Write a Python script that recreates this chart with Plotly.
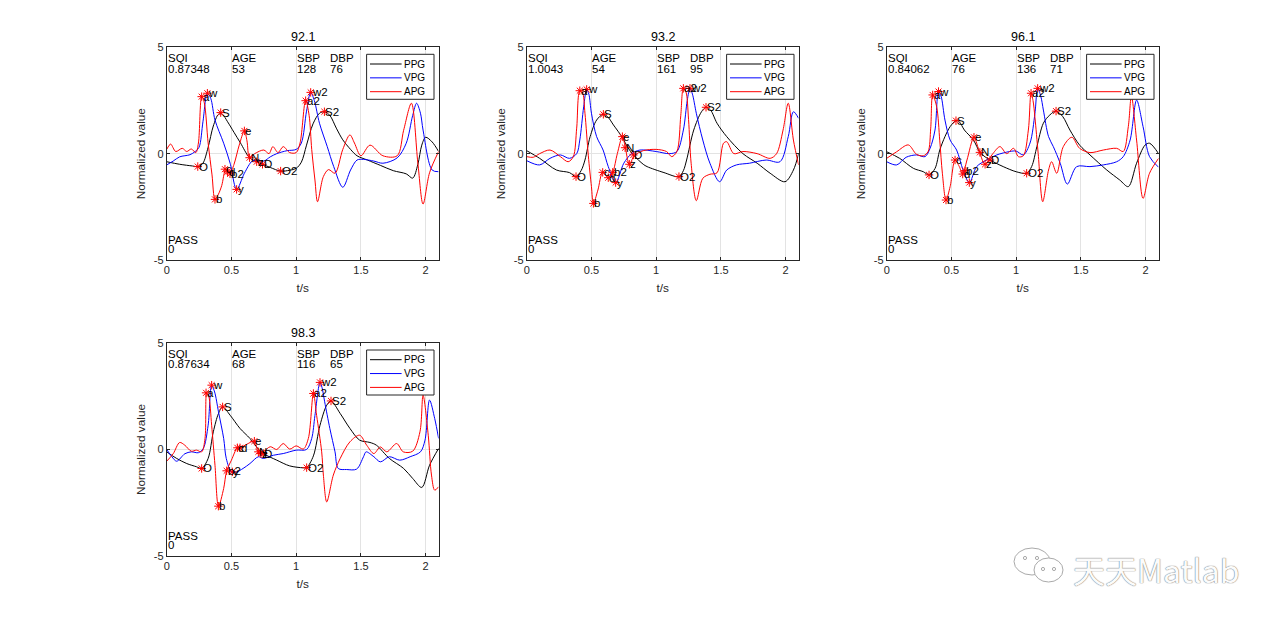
import plotly.graph_objects as go

# panel headers
titles = ['92.1', '93.2', '96.1', '98.3']
sqi = ['0.87348', '1.0043', '0.84062', '0.87634']
age = ['53', '54', '76', '68']
sbp = ['128', '161', '136', '116']
dbp = ['76', '95', '71', '65']
result = ['PASS', 'PASS', 'PASS', 'PASS']
flag = ['0', '0', '0', '0']
series_names = ['PPG', 'VPG', 'APG']
series_colors = ['black', 'blue', 'red']

# (t, value)
ppg1 = [(0, -0.38), (0.1, -0.5), (0.2, -0.58), (0.245, -0.61), (0.28, -0.45), (0.32, 0.3), (0.36, 1.3),
        (0.40, 1.85), (0.43, 1.85), (0.47, 1.5), (0.52, 1.0), (0.57, 0.5), (0.64, -0.19), (0.695, -0.38),
        (0.74, -0.5), (0.8, -0.65), (0.88, -0.82), (0.95, -0.78), (1.0, -0.69), (1.04, -0.4), (1.08, 0.4),
        (1.13, 1.4), (1.18, 1.9), (1.22, 1.97), (1.26, 1.8), (1.31, 1.2), (1.36, 0.65), (1.42, 0.2),
        (1.47, -0.1), (1.55, -0.3), (1.65, -0.55), (1.75, -0.8), (1.85, -0.95), (1.9, -1.15), (1.94, -0.5),
        (1.97, 0.4), (2.0, 0.77), (2.05, 0.55), (2.1, 0.1)]
vpg1 = [(0, -0.53), (0.05, -0.35), (0.1, -0.15), (0.18, -0.05), (0.22, 0.1), (0.25, 0.3), (0.28, 1.5),
        (0.314, 2.84), (0.34, 2.6), (0.373, 1.58), (0.44, 0.49), (0.49, -0.45), (0.54, -1.68), (0.6, -0.92),
        (0.66, -0.35), (0.7, -0.3), (0.75, -0.35), (0.8, -0.15), (0.85, 0.0), (0.93, 0.14), (1.0, 0.2),
        (1.04, 0.5), (1.08, 2.0), (1.112, 2.88), (1.14, 2.5), (1.18, 1.43), (1.24, 0.33), (1.29, -0.61),
        (1.36, -1.58), (1.42, -0.77), (1.47, -0.3), (1.52, -0.27), (1.6, -0.35), (1.67, -0.45), (1.78, -0.2),
        (1.85, 0.49), (1.9, 1.8), (1.93, 2.37), (1.96, 1.9), (1.98, 1.11), (2.05, -0.77), (2.1, -0.85)]
apg1 = [(0, 0.2), (0.03, 0.45), (0.07, 0.1), (0.12, 0.25), (0.155, 0.1), (0.19, 0.22), (0.225, 0.05),
        (0.245, 0.5), (0.27, 2.68), (0.29, 2.4), (0.32, 0.5), (0.35, -1.0), (0.373, -2.15), (0.4, -1.9),
        (0.425, -1.5), (0.456, -0.74), (0.475, -0.8), (0.49, -0.92), (0.52, -0.5), (0.56, 0.4), (0.6, 1.07),
        (0.62, 0.6), (0.64, -0.19), (0.68, 0.0), (0.75, 0.17), (0.79, 0.0), (0.82, 0.33), (0.86, 0.05),
        (0.9, 0.33), (0.95, 0.05), (1.0, 0.05), (1.03, 0.5), (1.073, 2.52), (1.1, 1.8), (1.12, 0.2),
        (1.145, -1.24), (1.165, -2.26), (1.21, -1.08), (1.25, -0.75), (1.3, -0.92), (1.36, 0.2), (1.415, 0.88),
        (1.45, 0.5), (1.5, -0.1), (1.57, 0.4), (1.67, -0.1), (1.78, -0.1), (1.83, 1.1), (1.89, 2.37),
        (1.94, -0.45), (1.98, -2.37), (2.03, -0.9), (2.1, 0.1)]

ppg2 = [(0, 0.14), (0.1, -0.22), (0.23, -0.77), (0.33, -0.89), (0.381, -1.08), (0.42, -0.8), (0.45, -0.3),
        (0.49, 0.8), (0.54, 1.58), (0.592, 1.85), (0.63, 1.7), (0.67, 1.35), (0.74, 0.75), (0.78, 0.3),
        (0.824, -0.06), (0.9, -0.5), (0.93, -0.61), (1.06, -0.89), (1.176, -1.08), (1.21, -0.8), (1.235, -0.3),
        (1.29, 1.11), (1.35, 1.97), (1.385, 2.18), (1.42, 2.05), (1.47, 1.43), (1.545, 0.8), (1.67, 0.0),
        (1.78, -0.45), (1.88, -0.92), (1.995, -1.32), (2.06, -0.77), (2.1, 0.0)]
vpg2 = [(0, -0.33), (0.1, -0.53), (0.18, -0.22), (0.26, -0.06), (0.33, -0.22), (0.386, 0.0), (0.41, 0.64),
        (0.44, 2.2), (0.463, 3.02), (0.48, 2.8), (0.5, 1.9), (0.54, 0.8), (0.59, 0.17), (0.63, -0.61),
        (0.687, -1.36), (0.75, -0.45), (0.81, 0.0), (0.875, 0.17), (1.0, 0.1), (1.1, 0.0), (1.16, 0.1),
        (1.21, 1.11), (1.24, 2.5), (1.261, 3.07), (1.28, 2.8), (1.31, 1.9), (1.36, 0.64), (1.415, -0.45),
        (1.49, -1.32), (1.545, -0.77), (1.62, -0.53), (1.72, -0.45), (1.85, -0.3), (1.956, -0.38),
        (2.02, 0.8), (2.06, 1.97), (2.1, 1.66)]
apg2 = [(0, -0.14), (0.05, -0.17), (0.1, 0.0), (0.18, 0.17), (0.26, -0.14), (0.32, -0.38), (0.36, -0.14),
        (0.386, 1.2), (0.41, 2.96), (0.43, 2.9), (0.45, 1.9), (0.476, -0.1), (0.5, -1.55), (0.515, -2.34),
        (0.55, -1.71), (0.587, -0.88), (0.63, -1.13), (0.664, -0.88), (0.7, 0.0), (0.739, 0.8), (0.76, 0.35),
        (0.793, -0.5), (0.83, -0.1), (0.9, 0.14), (1.0, 0.2), (1.08, 0.1), (1.12, -0.14), (1.16, 0.1),
        (1.19, 1.8), (1.21, 3.07), (1.23, 2.9), (1.25, 1.6), (1.27, -0.45), (1.31, -2.21), (1.36, -1.16),
        (1.415, -0.97), (1.47, -0.9), (1.52, 0.49), (1.545, 0.56), (1.6, 0.0), (1.67, 0.1), (1.78, 0.0),
        (1.88, -0.22), (1.93, 0.0), (1.98, 1.11), (2.02, 2.37), (2.06, 0.64), (2.1, -0.53)]

ppg3 = [(0, 0.09), (0.1, -0.22), (0.206, -0.69), (0.283, -0.85), (0.327, -1.0), (0.373, -0.7), (0.41, 0.17),
        (0.45, 0.8), (0.49, 1.27), (0.535, 1.55), (0.56, 1.5), (0.6, 1.11), (0.67, 0.64), (0.72, 0.06),
        (0.76, -0.15), (0.798, -0.3), (0.9, -0.61), (1.0, -0.85), (1.081, -0.92), (1.12, -0.6), (1.16, 0.33),
        (1.21, 1.43), (1.26, 1.82), (1.308, 2.0), (1.36, 1.74), (1.415, 1.11), (1.49, 0.4), (1.57, -0.06),
        (1.7, -0.77), (1.8, -1.24), (1.866, -1.55), (1.93, -0.45), (1.995, 0.4), (2.03, 0.49), (2.1, 0.0)]
vpg3 = [(0, -0.38), (0.077, -0.53), (0.15, -0.17), (0.23, -0.06), (0.296, -0.14), (0.335, 0.25),
        (0.373, 1.11), (0.4, 2.92), (0.42, 2.7), (0.45, 1.58), (0.49, 0.64), (0.54, 0.17), (0.59, -0.77),
        (0.638, -1.36), (0.695, -0.61), (0.77, -0.3), (0.85, -0.06), (0.95, 0.1), (1.0, 0.12), (1.055, -0.06),
        (1.107, 0.5), (1.145, 1.9), (1.166, 3.07), (1.19, 2.7), (1.21, 2.05), (1.25, 0.8), (1.287, 0.33),
        (1.34, -0.45), (1.395, -1.43), (1.467, -0.61), (1.57, -0.61), (1.673, -0.53), (1.776, -0.38),
        (1.827, -0.14), (1.88, 0.64), (1.93, 2.52), (1.98, 1.27), (2.03, -0.14), (2.1, -0.64)]
apg3 = [(0, -0.22), (0.077, 0.09), (0.167, 0.41), (0.23, -0.03), (0.283, -0.1), (0.32, 0.1), (0.34, 1.2),
        (0.355, 2.76), (0.386, 2.2), (0.41, 0.6), (0.43, -0.92), (0.458, -2.18), (0.49, -1.55), (0.528, -0.3),
        (0.56, -0.6), (0.587, -0.96), (0.62, -0.3), (0.674, 0.77), (0.708, 0.25), (0.76, -0.5), (0.82, 0.0),
        (0.875, 0.33), (0.927, 0.0), (0.98, 0.25), (1.017, -0.14), (1.055, -0.1), (1.094, 1.11), (1.115, 2.84),
        (1.13, 2.5), (1.145, 1.7), (1.17, 0.0), (1.205, -2.26), (1.25, -0.77), (1.274, -0.38), (1.313, -0.92),
        (1.364, 0.33), (1.43, 0.77), (1.49, 0.25), (1.57, 0.05), (1.673, 0.17), (1.776, 0.25), (1.827, 0.1),
        (1.866, 1.27), (1.89, 2.7), (1.93, 0.64), (1.98, -2.1), (2.03, -0.92), (2.1, -0.22)]

ppg4 = [(0, -0.11), (0.077, -0.42), (0.155, -0.66), (0.23, -0.81), (0.27, -0.89), (0.32, -0.42),
        (0.36, 0.83), (0.4, 1.69), (0.432, 2.0), (0.49, 1.61), (0.566, 0.99), (0.643, 0.52), (0.708, 0.02),
        (0.746, -0.19), (0.85, -0.5), (0.95, -0.77), (1.055, -0.86), (1.081, -0.85), (1.133, -0.3),
        (1.184, 1.14), (1.236, 2.08), (1.269, 2.28), (1.34, 1.69), (1.415, 0.99), (1.49, 0.44), (1.57, 0.33),
        (1.62, 0.2), (1.72, -0.42), (1.83, -0.89), (1.9, -1.36), (1.97, -1.78), (2.03, -0.74), (2.1, 0.05)]
vpg4 = [(0, 0.0), (0.04, -0.34), (0.077, -0.55), (0.14, -0.2), (0.19, -0.11), (0.245, -0.15), (0.283, 0.05),
        (0.32, 1.14), (0.347, 3.0), (0.37, 2.7), (0.4, 1.77), (0.44, 0.52), (0.46, -0.42), (0.5, -1.05),
        (0.54, -1.05), (0.59, -0.89), (0.643, -0.66), (0.708, -0.34), (0.746, -0.42), (0.824, -0.27),
        (0.9, -0.19), (1.0, -0.03), (1.08, 0.0), (1.12, 0.52), (1.145, 1.6), (1.184, 3.15), (1.2, 2.9),
        (1.22, 2.24), (1.26, 0.99), (1.3, -0.11), (1.325, -0.89), (1.39, -0.94), (1.467, -0.92), (1.52, -0.34),
        (1.54, -0.11), (1.6, -0.34), (1.65, -0.58), (1.72, -0.34), (1.8, -0.5), (1.88, -0.34), (1.96, -0.11),
        (1.995, 0.44), (2.03, 2.32), (2.07, 1.45), (2.1, 0.52)]
apg4 = [(0, -0.55), (0.05, -0.2), (0.1, 0.33), (0.14, 0.2), (0.19, -0.08), (0.23, -0.03), (0.27, -0.11),
        (0.296, 0.52), (0.309, 2.68), (0.325, 2.5), (0.347, 1.14), (0.373, -0.74), (0.4, -2.66), (0.44, -1.83),
        (0.463, -1.0), (0.5, -0.5), (0.546, 0.08), (0.566, 0.08), (0.62, 0.25), (0.677, 0.39), (0.708, -0.11),
        (0.746, -0.1), (0.8, 0.13), (0.85, 0.0), (0.9, 0.28), (0.95, 0.02), (1.0, 0.17), (1.055, 0.02),
        (1.094, 0.52), (1.133, 2.63), (1.158, 1.6), (1.197, -0.11), (1.21, -1.2), (1.236, -2.46), (1.287, -1.2),
        (1.34, -0.42), (1.415, 0.36), (1.49, 0.67), (1.545, 0.2), (1.6, -0.19), (1.65, 0.12), (1.7, -0.11),
        (1.776, 0.28), (1.827, -0.11), (1.9, -0.08), (1.956, 0.83), (1.98, 2.55), (2.02, 0.67), (2.045, -1.2),
        (2.07, -1.91), (2.1, -1.75)]

# fiducial points: (label, t, value)
pts1 = [('a', 0.27, 2.68), ('w', 0.314, 2.84), ('S', 0.417, 1.93), ('e', 0.60, 1.07), ('O', 0.24, -0.61),
        ('b', 0.373, -2.15), ('c', 0.45, -0.73), ('d', 0.47, -0.85), ('b2', 0.489, -0.95), ('y', 0.54, -1.68),
        ('N', 0.64, -0.19), ('z', 0.695, -0.38), ('D', 0.74, -0.5), ('O2', 0.88, -0.82), ('a2', 1.073, 2.49),
        ('w2', 1.112, 2.88), ('S2', 1.218, 1.97)]
pts2 = [('a', 0.41, 2.96), ('w', 0.463, 3.02), ('O', 0.381, -1.08), ('S', 0.592, 1.85), ('b', 0.515, -2.34),
        ('c', 0.587, -0.88), ('d', 0.63, -1.13), ('b2', 0.664, -0.88), ('y', 0.687, -1.36), ('e', 0.739, 0.8),
        ('N', 0.76, 0.28), ('z', 0.793, -0.5), ('D', 0.824, -0.06), ('O2', 1.176, -1.08), ('a2', 1.21, 3.07),
        ('w2', 1.261, 3.07), ('S2', 1.385, 2.18)]
pts3 = [('a', 0.355, 2.76), ('w', 0.4, 2.92), ('O', 0.327, -1.0), ('S', 0.535, 1.55), ('b', 0.458, -2.18),
        ('c', 0.528, -0.3), ('d', 0.587, -0.96), ('b2', 0.605, -0.8), ('y', 0.638, -1.36), ('e', 0.674, 0.77),
        ('N', 0.72, 0.06), ('z', 0.76, -0.5), ('D', 0.798, -0.3), ('O2', 1.081, -0.92), ('a2', 1.115, 2.84),
        ('w2', 1.166, 3.07), ('S2', 1.308, 2.0)]
pts4 = [('a', 0.304, 2.66), ('w', 0.347, 3.02), ('S', 0.432, 2.0), ('O', 0.27, -0.89), ('b', 0.399, -2.66),
        ('b2', 0.463, -1.0), ('y', 0.507, -1.05), ('c', 0.546, 0.08), ('d', 0.566, 0.08), ('e', 0.677, 0.39),
        ('N', 0.708, -0.11), ('z', 0.728, -0.19), ('D', 0.746, -0.19), ('O2', 1.081, -0.85), ('a2', 1.133, 2.63),
        ('w2', 1.184, 3.15), ('S2', 1.269, 2.28)]

x_ticks = [0, 0.5, 1, 1.5, 2]
x_ticktext = ['0', '0.5', '1', '1.5', '2']
y_ticks = [-5, 0, 5]
y_ticktext = ['-5', '0', '5']

ppg = [ppg1, ppg2, ppg3, ppg4]
vpg = [vpg1, vpg2, vpg3, vpg4]
apg = [apg1, apg2, apg3, apg4]
pts = [pts1, pts2, pts3, pts4]

W, H = 1280, 625
OFF = 8  # the page body margin shifts the figure by this much
# axes boxes in screen pixels: left, top, right, bottom
boxes = [(166.7, 47.3, 438.6, 260.0), (526.7, 47.3, 798.6, 260.0),
         (886.7, 47.3, 1158.6, 260.0), (166.7, 343.0, 438.6, 556.0)]

FONT = 'Arial, Liberation Sans, sans-serif'
INK = '#262626'


def fx(x):
    return (x - OFF) / W


def fy(y):
    return 1 - (y - OFF) / H


def px(x0, y0, x1, y1):
    return dict(xref='paper', yref='paper', x0=fx(x0), x1=fx(x1), y0=fy(y1), y1=fy(y0))


def txt(x, y, s, xref, yref, **kw):
    d = dict(x=x, y=y, xref=xref, yref=yref, text=s, showarrow=False, xanchor='left',
             yanchor='middle', borderpad=0, font=dict(family=FONT, size=11.5, color='black'))
    d.update(kw)
    return d


fig = go.Figure()
annotations = []
shapes = []
layout = {}

for i in range(4):
    n = '' if i == 0 else str(i + 1)
    xa, ya = 'x' + n, 'y' + n
    L, T, R, B = boxes[i]

    for name, curve, col in zip(series_names, [ppg[i], vpg[i], apg[i]], series_colors):
        fig.add_trace(go.Scatter(
            x=[p[0] for p in curve], y=[p[1] for p in curve], mode='lines', name=name,
            line=dict(color=col, width=1, shape='spline', smoothing=0.9),
            xaxis=xa, yaxis=ya, showlegend=False))

    fig.add_trace(go.Scatter(
        x=[p[1] for p in pts[i]], y=[p[2] for p in pts[i]], mode='markers', showlegend=False,
        marker=dict(symbol='asterisk-open', size=7, color='red', line=dict(color='red', width=1)),
        xaxis=xa, yaxis=ya))

    for lbl, t, v in pts[i]:
        annotations.append(txt(t, v, lbl, xa, ya))

    # header / footer text blocks
    for t, head, val in [(0, 'SQI', sqi[i]), (0.5, 'AGE', age[i]), (1.0, 'SBP', sbp[i]), (1.25, 'DBP', dbp[i])]:
        annotations.append(txt(t, 4.5, head, xa, ya))
        annotations.append(txt(t, 4.0, val, xa, ya))
    annotations.append(txt(0, -4.05, result[i], xa, ya))
    annotations.append(txt(0, -4.5, flag[i], xa, ya))

    annotations.append(txt(fx((L + R) / 2), fy(T - 10), titles[i], 'paper', 'paper',
                           xanchor='center', font=dict(family=FONT, size=12.5, color='black')))

    # legend box drawn like the MATLAB one
    shapes.append(dict(type='rect', line=dict(color=INK, width=1), fillcolor='white',
                       **px(R - 72, T + 7, R - 4.6, T + 52)))
    for k, (name, col) in enumerate(zip(series_names, series_colors)):
        yy = T + 16.7 + 13.85 * k
        shapes.append(dict(type='line', line=dict(color=col, width=1), **px(R - 68.6, yy, R - 37, yy)))
        annotations.append(txt(fx(R - 12.3), fy(yy), name, 'paper', 'paper', xanchor='right',
                               font=dict(family=FONT, size=10, color='black')))

    axis_common = dict(showline=True, linecolor=INK, linewidth=1, mirror='ticks', ticks='inside',
                       ticklen=3, tickcolor=INK, showgrid=True, gridcolor='#e3e3e3', gridwidth=1,
                       zeroline=False, automargin=False, tickfont=dict(family=FONT, size=11, color=INK))
    layout['xaxis' + n] = dict(axis_common, domain=[fx(L), fx(R)], range=[0, 2.1], anchor=ya,
                               tickvals=x_ticks, ticktext=x_ticktext,
                               title=dict(text='t/s', standoff=8, font=dict(family=FONT, size=11.8, color=INK)))
    layout['yaxis' + n] = dict(axis_common, domain=[fy(B), fy(T)], range=[-5, 5], anchor=xa,
                               tickvals=y_ticks, ticktext=y_ticktext,
                               title=dict(text='Normalized value', standoff=5,
                                          font=dict(family=FONT, size=11.8, color=INK)))

# watermark
annotations.append(txt(fx(1072), fy(569), '天天Matlab', 'paper', 'paper',
                       font=dict(family='Noto Sans CJK SC', size=32, color='#fbfbfb',
                                 shadow='0px 0px 1px #777, 0px 0px 1px #777')))

shapes.append(dict(type='circle', line=dict(color='#aaaaaa', width=1), fillcolor='white',
                   **px(1014, 548, 1050, 575)))
shapes.append(dict(type='circle', line=dict(color='#aaaaaa', width=1), fillcolor='white',
                   **px(1034, 558, 1063, 582)))
for cx, cy, r in [(1025, 558, 1.6), (1037, 558, 1.6), (1043, 569, 1.6), (1054, 569, 1.6)]:
    shapes.append(dict(type='circle', line=dict(color='#aaaaaa', width=1), fillcolor='white',
                       **px(cx - r, cy - r, cx + r, cy + r)))

fig.update_layout(
    width=W, height=H,
    margin=dict(l=0, r=0, t=0, b=0, autoexpand=False),
    paper_bgcolor='white', plot_bgcolor='white',
    font=dict(family=FONT, size=11, color=INK),
    showlegend=False,
    annotations=annotations, shapes=shapes,
    **layout)

fig.write_html("out.html")
